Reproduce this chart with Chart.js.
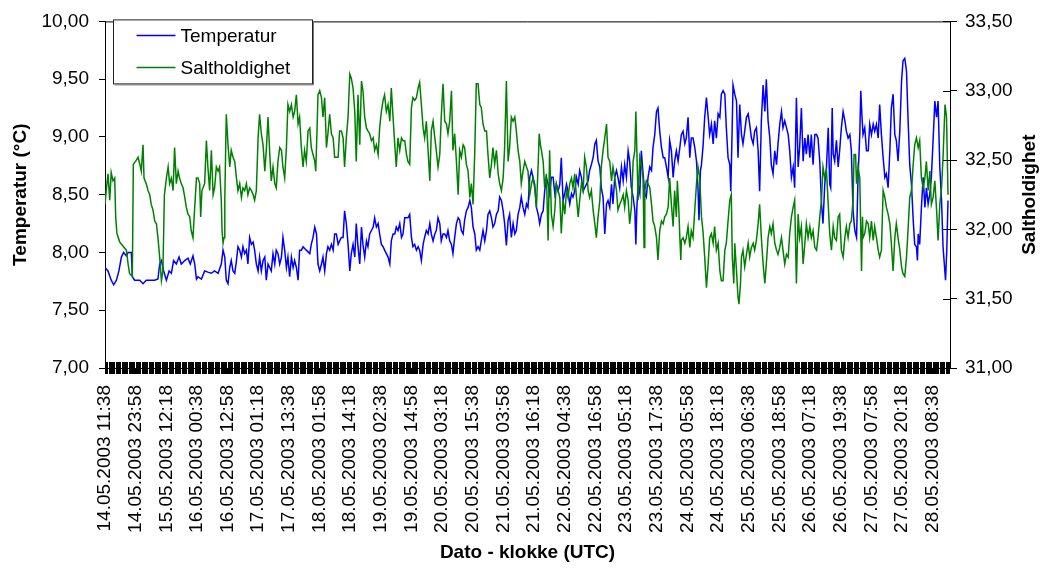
<!DOCTYPE html>
<html><head><meta charset="utf-8">
<script src="https://cdn.jsdelivr.net/npm/chart.js@4.4.1/dist/chart.umd.min.js"></script>
<style>html,body{margin:0;padding:0;background:#fff;}#wrap{width:1042px;height:570px;}</style>
</head><body><div id="wrap"><canvas id="c" width="1042" height="570"></canvas></div>
<script>
// ---- DATA ----
const tickLabels = ["14.05.2003 11:38","14.05.2003 23:58","15.05.2003 12:18","16.05.2003 00:38","16.05.2003 12:58","17.05.2003 01:18","17.05.2003 13:38","18.05.2003 01:58","18.05.2003 14:18","19.05.2003 02:38","19.05.2003 14:58","20.05.2003 03:18","20.05.2003 15:38","21.05.2003 03:58","21.05.2003 16:18","22.05.2003 04:38","22.05.2003 16:58","23.05.2003 05:18","23.05.2003 17:38","24.05.2003 05:58","24.05.2003 18:18","25.05.2003 06:38","25.05.2003 18:58","26.05.2003 07:18","26.05.2003 19:38","27.05.2003 07:58","27.05.2003 20:18","28.05.2003 08:38"];
const seriesNames = ["Temperatur", "Saltholdighet"];
const axisTitles = {x: "Dato - klokke (UTC)", left: "Temperatur (°C)", right: "Saltholdighet"};
const totalHours = 340;       // time span on the axis, hours from first label
const ticksPerLabel = 26;     // minor category tick marks between two labels

// hours after 14.05.2003 11:38
const tempHours = [
0,1.2,2.5,3.5,4.6,5.6,6.6,7.5,8.6,9.3,10.6,11.0,11.9,14.0,15.3,16.6,20.0,21.3,22.0,22.7,23.6,24.7,25.8,26.7,27.6,28.7,29.8,30.7,32.1,33.4,34.3,35.4,36.1,36.8,
37.4,38.8,40.1,41.4,42.8,44.1,45.5,46.8,47.5,48.2,48.8,49.5,50.2,50.8,51.5,52.2,52.9,53.5,54.2,54.9,55.5,56.2,56.9,57.5,58.2,58.9,59.6,60.2,60.9,61.6,62.2,62.9,63.6,64.3,64.9,65.6,66.9,67.6,68.3,68.9,69.6,70.3,71.0,71.6,72.3,73.0,73.6,74.3,75.0,75.7,76.3,77.0,77.7,78.3,79.0,
79.7,81.0,82.4,83.0,83.7,84.4,85.1,85.7,86.4,87.1,87.7,88.4,89.1,89.7,90.4,91.1,91.8,92.4,93.1,93.8,94.4,95.1,95.8,96.4,97.1,97.8,98.5,99.1,99.8,100.5,101.1,101.8,102.5,103.2,103.8,104.5,105.2,105.8,106.5,107.2,107.9,108.5,109.2,109.9,110.5,111.2,111.9,112.5,113.2,113.9,114.6,115.2,115.9,116.6,117.2,117.9,118.6,119.3,119.9,120.6,121.3,
121.9,122.6,123.3,123.9,124.6,125.3,126.0,126.6,127.3,128.0,128.6,129.3,130.0,130.7,131.3,132.0,132.7,133.3,134.0,134.7,135.3,136.0,136.7,137.4,138.0,138.7,139.4,140.0,140.7,141.4,142.1,142.7,143.4,144.1,144.7,145.4,146.1,146.8,147.4,148.1,148.8,149.4,150.1,150.8,151.4,152.1,152.8,153.5,154.1,154.8,155.5,156.1,156.8,157.5,158.2,158.8,159.5,160.2,160.8,161.5,162.2,162.8,163.5,
164.2,164.9,165.5,166.2,166.9,167.5,168.2,168.9,169.6,170.2,170.9,171.6,172.2,172.9,173.6,174.3,174.9,175.6,176.3,176.9,177.6,178.3,178.9,179.6,180.3,181.0,181.6,182.3,183.0,183.6,184.3,185.0,185.7,186.3,187.0,187.7,188.3,189.0,189.7,190.4,191.0,191.7,192.4,193.0,193.7,194.4,195.0,195.7,196.4,197.1,197.7,198.4,199.1,199.7,200.4,201.1,201.8,202.4,203.1,203.8,204.4,205.1,205.8,
206.4,207.1,207.8,208.5,209.1,209.8,210.5,211.1,211.8,212.5,213.2,213.6,214.0,214.5,215.2,215.8,216.5,217.2,217.8,218.5,219.2,219.9,220.5,221.2,221.9,222.5,223.2,223.9,224.6,225.2,225.9,226.6,227.2,227.9,228.6,229.2,229.9,230.6,231.3,231.9,232.6,233.3,233.9,234.6,235.3,235.9,236.6,237.3,238.0,238.6,239.0,239.6,240.0,240.6,241.3,242.0,242.7,243.3,244.0,244.7,245.3,246.0,246.7,247.4,248.0,
248.7,249.4,250.0,250.7,251.4,251.8,252.3,252.7,253.4,254.1,254.7,255.4,256.1,256.7,257.4,258.1,258.8,259.4,260.1,260.8,261.4,262.1,262.8,263.4,264.1,264.8,265.5,266.1,266.8,267.5,268.1,268.8,269.5,270.2,270.8,271.5,272.2,272.8,273.5,274.2,274.9,275.5,276.2,276.9,277.5,278.2,278.9,279.5,280.2,280.9,281.6,282.2,282.9,283.6,284.2,284.9,285.6,286.3,286.9,287.6,288.3,288.9,289.6,290.3,
291.0,291.6,292.0,292.6,293.0,293.6,294.3,295.0,295.6,296.3,297.0,297.7,298.3,299.0,299.7,300.3,301.0,301.7,302.4,303.0,303.7,304.1,304.6,305.0,305.7,306.4,307.1,307.7,308.4,309.1,309.7,310.4,311.1,311.7,312.4,313.1,313.8,314.4,315.1,315.8,316.4,317.1,317.8,318.4,319.1,319.8,320.5,321.1,321.8,322.5,323.1,323.8,324.5,325.2,325.8,326.5,326.9,327.2,327.8,328.5,329.2,329.9,330.5,331.2,331.9,332.5,333.2,333.9,334.6,335.2,335.9,336.6,337.2,338.2,338.7,339.2];
const tempValues = [
7.87,7.84,7.76,7.72,7.76,7.84,7.96,8.00,7.97,8.00,8.00,7.79,7.76,7.76,7.73,7.76,7.76,7.77,7.90,7.93,7.84,7.76,7.84,7.82,7.93,7.90,7.96,7.90,7.93,7.95,7.90,7.97,7.90,7.77,
7.79,7.77,7.84,7.83,7.82,7.84,7.82,7.90,8.02,7.96,7.76,7.73,7.87,7.93,7.84,7.82,7.93,8.05,8.02,7.96,8.05,7.99,8.02,7.90,8.13,8.07,8.09,8.02,7.90,7.84,7.96,7.84,7.93,7.96,7.76,7.90,7.84,7.99,7.90,8.02,7.99,7.90,7.96,8.13,8.02,7.87,7.96,7.79,7.96,7.87,7.93,7.87,7.76,8.02,8.02,
8.05,8.02,7.99,8.07,8.13,8.22,8.16,7.90,7.84,7.90,7.96,7.84,7.99,8.05,8.02,8.07,8.02,8.16,8.16,8.07,8.10,8.13,8.13,8.36,8.25,8.07,7.84,7.99,8.07,7.96,8.25,8.05,7.90,8.22,8.07,7.96,8.10,8.05,8.16,8.19,8.22,8.30,8.22,8.25,8.16,8.07,8.05,8.02,7.99,7.96,7.90,8.10,8.16,8.16,8.22,8.19,8.25,8.13,8.16,8.30,8.30,
8.30,8.33,8.13,8.05,8.07,8.02,8.05,8.02,7.93,8.07,8.13,8.19,8.16,8.25,8.16,8.10,8.16,8.19,8.30,8.25,8.10,8.16,8.16,8.13,8.19,8.10,8.07,7.99,8.13,8.25,8.30,8.28,8.19,8.16,8.28,8.36,8.39,8.45,8.39,8.22,8.16,8.02,8.05,8.02,8.10,8.19,8.10,8.19,8.33,8.36,8.30,8.22,8.25,8.33,8.36,8.48,8.45,8.36,8.25,8.06,8.28,8.33,8.13,
8.25,8.16,8.19,8.33,8.39,8.48,8.39,8.33,8.42,8.39,8.65,8.71,8.65,8.59,8.39,8.33,8.25,8.33,8.36,8.53,8.65,8.59,8.51,8.65,8.65,8.51,8.59,8.53,8.59,8.82,8.45,8.51,8.59,8.53,8.42,8.51,8.48,8.53,8.65,8.59,8.71,8.65,8.53,8.56,8.59,8.62,8.71,8.76,8.82,8.94,8.97,8.79,8.74,8.56,8.48,8.16,8.42,8.45,8.39,8.59,8.42,8.65,8.71,
8.65,8.56,8.74,8.62,8.76,8.65,8.88,8.79,8.56,8.48,8.36,8.07,8.39,8.59,8.51,8.88,8.68,8.51,8.48,8.65,8.74,8.71,8.91,9.02,9.22,9.25,9.05,8.91,8.82,8.82,8.74,8.65,8.97,8.88,8.65,8.79,8.88,8.79,8.91,9.02,9.05,8.94,8.99,9.17,8.82,8.99,8.99,8.91,8.79,8.56,8.28,8.71,8.76,8.91,9.17,9.34,9.17,9.02,9.11,8.94,9.14,8.99,9.20,9.17,9.37,
9.40,9.37,9.08,8.82,8.76,8.53,9.02,9.45,9.37,9.31,8.82,9.28,9.02,8.94,9.05,9.17,9.20,9.11,8.99,8.94,9.05,9.08,8.88,8.53,9.14,9.45,9.22,9.50,9.14,8.99,8.76,8.68,8.88,8.76,8.94,9.11,9.22,9.08,9.14,9.08,9.02,8.88,8.65,8.74,8.56,9.34,8.74,8.91,9.25,8.79,8.99,8.85,9.02,8.82,9.02,8.76,9.02,9.02,8.99,8.79,8.42,8.25,8.59,8.74,
9.08,8.59,8.56,9.25,8.85,8.79,8.97,8.74,8.88,9.08,9.22,9.14,9.05,8.99,9.02,8.88,8.36,8.19,8.13,8.65,9.02,9.40,9.17,9.02,9.08,8.88,8.88,9.11,9.02,9.11,9.05,9.11,8.99,9.28,9.02,8.82,8.65,8.68,8.56,8.88,9.25,9.37,9.02,8.97,8.79,9.05,9.48,9.66,9.68,9.57,9.17,8.76,8.59,8.28,8.07,8.05,7.93,8.16,8.07,8.39,8.65,8.39,8.56,8.42,8.51,8.65,8.97,9.31,9.17,9.31,8.74,8.45,8.05,7.76,8.02,8.45];

const salHours = [
0.0,0.5,1.2,1.9,2.5,3.2,3.9,4.3,4.8,5.9,7.2,8.6,9.3,9.9,11.0,11.4,12.3,13.3,14.0,14.6,15.3,15.7,16.6,17.3,18.0,18.6,19.3,20.0,20.7,21.3,22.0,22.7,23.3,23.9,24.7,25.4,26.0,26.7,27.4,28.0,28.7,29.4,30.0,30.7,31.4,32.1,32.7,33.4,34.1,34.7,35.4,36.1,36.8,
37.4,38.1,38.5,39.0,40.1,40.8,41.4,42.1,42.8,43.5,44.1,44.8,45.5,46.1,46.8,47.1,47.5,47.9,48.2,48.8,49.5,50.2,50.8,51.5,52.2,52.9,53.5,54.2,54.9,55.5,56.2,56.9,57.5,58.2,58.9,59.6,60.2,60.9,61.6,62.2,62.9,63.6,64.3,64.9,65.6,66.3,66.9,67.6,68.3,68.9,69.6,70.3,71.0,71.6,72.3,73.0,73.6,74.3,75.0,75.7,76.3,77.0,77.7,78.3,79.0,
79.7,80.3,81.0,81.7,82.4,83.0,83.7,84.4,84.8,85.3,85.7,86.4,87.1,87.7,88.4,89.1,89.7,90.4,91.1,91.8,92.4,93.1,93.8,94.4,95.1,95.8,96.4,97.1,97.8,98.5,99.1,99.8,100.5,101.1,101.8,102.5,103.2,103.8,104.5,105.2,105.8,106.5,107.2,107.9,108.5,109.2,109.9,110.5,111.2,111.9,112.5,113.2,113.9,114.6,115.2,115.9,116.6,117.2,117.9,118.6,119.3,119.9,120.6,121.3,
121.9,122.6,123.3,123.9,124.6,125.3,126.0,126.6,127.3,128.0,128.6,129.3,130.0,130.7,131.3,132.0,132.7,133.3,134.0,134.7,135.3,136.0,136.7,137.4,138.0,138.7,139.4,140.0,140.7,141.4,142.1,142.7,143.4,144.1,144.7,145.4,146.1,146.8,147.4,148.1,148.8,149.4,150.1,150.8,151.4,152.1,152.8,153.5,154.1,154.8,155.5,156.1,156.8,157.5,158.2,158.8,159.5,160.2,160.8,161.5,162.2,162.8,163.5,
164.2,164.9,165.5,166.2,166.9,167.5,168.2,168.9,169.6,170.2,170.9,171.6,172.2,172.9,173.6,174.3,174.7,175.2,175.6,176.3,176.9,177.6,178.3,178.9,179.6,180.3,181.0,181.6,182.3,183.0,183.6,184.3,185.0,185.7,186.3,187.0,187.7,188.3,189.0,189.7,190.4,191.0,191.7,192.4,193.0,193.7,194.4,195.0,195.7,196.4,197.1,197.7,198.4,199.1,199.7,200.4,201.1,201.8,202.4,203.1,203.8,204.4,205.1,205.8,
206.4,207.1,207.8,208.5,209.1,209.8,210.5,211.1,211.8,212.5,213.2,213.6,214.0,214.5,215.2,215.8,216.5,216.9,217.2,217.8,218.5,219.2,219.9,220.5,221.2,221.9,222.5,223.2,223.9,224.6,225.2,225.9,226.6,227.2,227.9,228.6,229.2,229.9,230.3,230.9,231.3,231.7,231.9,232.6,233.3,233.9,234.6,235.3,235.9,236.6,237.3,238.0,238.6,239.3,240.0,240.6,241.3,242.0,242.7,243.3,244.0,244.7,245.3,246.0,246.7,247.4,248.0,
248.7,249.4,250.0,250.7,251.4,252.0,252.4,253.0,253.4,254.1,254.7,255.1,255.7,256.1,256.7,257.4,258.1,258.8,259.4,260.1,260.8,261.4,262.1,262.8,263.4,264.1,264.8,265.5,266.1,266.8,267.5,268.1,268.8,269.5,270.2,270.8,271.5,272.2,272.8,273.5,274.2,274.9,275.5,276.2,276.9,277.5,278.2,278.9,279.5,280.2,280.9,281.6,282.2,282.9,283.6,284.2,284.9,285.6,286.3,286.9,287.6,288.3,288.9,289.6,290.3,
291.0,291.6,292.3,293.0,293.6,294.3,295.0,295.6,296.3,297.0,297.7,298.3,299.0,299.7,300.3,301.0,301.4,302.0,302.4,303.0,303.7,304.4,304.8,305.0,305.7,306.4,307.1,307.7,308.4,309.1,309.7,310.4,311.1,311.7,312.4,313.1,313.8,314.4,315.1,315.8,316.4,317.1,317.8,318.4,319.1,319.8,320.5,321.1,321.8,322.5,323.1,323.8,324.5,325.2,325.8,326.5,327.2,327.8,328.5,329.2,329.9,330.5,331.2,331.9,332.5,333.2,333.9,334.6,335.2,335.9,336.6,337.2,338.0,338.6,339.2];
const salValues = [
32.18,32.28,32.40,32.21,32.41,32.35,32.37,32.09,31.97,31.91,31.88,31.85,31.75,31.68,31.66,32.47,32.49,32.52,32.47,32.42,32.61,32.37,32.33,32.28,32.25,32.18,32.14,32.06,32.04,31.94,31.80,31.63,31.70,32.25,32.37,32.45,32.33,32.37,32.28,32.59,32.33,32.42,32.37,32.33,32.30,32.23,32.16,32.11,32.09,31.99,31.94,32.16,32.37,
32.37,32.33,32.09,32.28,32.33,32.64,32.45,32.28,32.57,32.25,32.30,32.45,32.42,32.45,32.21,31.99,31.90,31.94,32.21,32.83,32.61,32.45,32.57,32.52,32.49,32.37,32.28,32.33,32.23,32.30,32.28,32.33,32.25,32.30,32.28,32.25,32.21,32.28,32.66,32.83,32.69,32.61,32.42,32.57,32.81,32.54,32.35,32.45,32.33,32.30,32.49,32.59,32.57,32.45,32.37,32.59,32.90,32.85,32.90,32.81,32.85,32.97,32.76,32.81,32.59,
32.45,32.57,32.49,32.71,32.73,32.59,32.54,32.49,32.42,32.71,32.97,33.00,32.95,32.81,32.95,32.59,32.69,32.83,32.69,32.66,32.52,32.52,32.52,32.71,32.71,32.66,32.45,32.66,32.81,33.12,33.09,33.02,32.85,32.49,32.97,32.61,33.07,33.00,32.81,32.73,32.71,32.69,32.64,32.66,32.57,32.61,32.54,32.73,32.85,32.93,32.97,32.85,32.90,32.78,33.02,32.81,32.61,32.45,32.66,32.57,32.66,32.64,32.64,32.54,
32.49,32.47,32.88,32.95,32.93,32.95,33.02,33.06,32.90,32.73,32.66,32.78,32.57,32.35,32.71,32.78,32.66,32.57,32.45,32.54,32.81,33.05,32.78,32.76,32.69,32.78,33.00,32.57,32.69,32.49,32.25,32.57,32.52,32.61,32.59,32.47,32.42,32.23,32.33,32.18,32.57,33.05,33.05,32.90,32.88,32.76,32.71,32.71,32.54,32.37,32.47,32.59,32.47,32.57,32.40,32.33,32.28,32.37,32.59,33.07,32.49,32.59,32.81,
32.78,32.81,32.71,32.57,32.49,32.33,32.42,32.49,32.45,32.42,32.25,32.33,32.37,32.30,32.16,32.47,32.69,32.61,32.57,32.49,32.30,32.40,31.92,32.57,32.11,32.02,32.14,32.33,32.28,32.23,31.97,32.21,32.11,32.28,32.23,32.33,32.37,32.30,32.40,32.23,32.09,32.21,32.33,32.28,32.52,32.45,32.28,32.23,32.28,32.14,32.04,31.94,32.09,32.21,32.45,32.57,32.66,32.76,32.52,32.49,32.35,32.45,32.37,32.28,
32.14,32.18,32.21,32.25,32.16,32.28,32.21,32.04,32.16,32.49,32.57,32.85,32.57,32.21,32.52,32.47,32.37,31.87,32.28,32.35,32.33,32.30,32.18,32.06,32.02,31.94,31.78,31.99,32.06,32.04,32.09,32.11,32.16,32.37,32.18,32.02,32.28,32.09,32.35,32.14,31.94,31.78,31.92,31.94,31.90,31.94,32.02,31.87,31.99,31.94,32.14,32.33,32.45,32.37,32.09,31.99,31.80,31.58,31.75,31.94,31.97,31.90,32.02,31.85,31.90,31.70,31.63,
31.63,31.85,31.90,32.06,32.21,32.25,31.80,31.61,31.90,31.70,31.51,31.46,31.61,31.80,31.85,31.73,31.82,31.90,31.80,31.87,31.90,31.85,31.92,32.04,32.18,31.94,31.75,31.61,31.75,31.94,32.02,31.97,32.04,31.90,31.85,31.82,31.87,31.94,31.85,31.75,31.82,31.80,31.97,32.09,32.16,32.21,31.61,32.11,31.94,32.02,31.75,31.90,32.04,31.94,32.02,31.94,31.99,31.87,31.85,31.94,32.09,32.21,32.45,32.37,32.42,
32.18,31.97,31.85,32.02,31.94,31.92,32.09,32.11,31.85,31.80,31.94,32.02,31.94,32.04,32.06,32.21,32.54,32.54,32.33,32.45,32.37,31.70,32.09,31.94,31.97,32.06,32.04,31.94,32.06,31.92,32.02,31.94,31.85,31.80,31.85,32.28,32.23,32.16,32.11,32.04,31.90,31.70,31.94,32.04,31.94,31.85,31.73,31.68,31.66,31.80,31.99,32.23,32.28,32.47,32.61,32.66,32.59,32.64,32.37,32.30,32.37,32.49,32.28,32.42,32.18,32.23,32.35,32.14,31.92,32.18,32.30,32.52,32.90,32.81,32.25];

// ---- helpers ----
function stampHours(s){
  const [d,t] = s.split(' ');
  const [dd,mm,yy] = d.split('.').map(Number);
  const [hh,mi] = t.split(':').map(Number);
  return Date.UTC(yy,mm-1,dd,hh,mi)/3600000;
}
const t0 = stampHours(tickLabels[0]);
const tickHours = tickLabels.map(s => stampHours(s) - t0);
const pts = (hs, vs) => hs.slice(0, Math.min(hs.length, vs.length)).map((h,i)=>({x:h, y:vs[i]}));
const comma = v => Number(v).toFixed(2).replace('.', ',');

const FONT = '"Liberation Sans", Arial, sans-serif';
Chart.defaults.font.family = FONT;
Chart.defaults.color = '#000';

const decor = {
  id: 'decor',
  afterDraw(chart){
    const {ctx, chartArea:a, scales} = chart;
    const xs = scales.x, yr = scales.y2;
    ctx.save();
    ctx.strokeStyle = '#000'; ctx.lineWidth = 1;
    // top border of plot area
    ctx.beginPath(); ctx.moveTo(a.left, a.top + 0.5); ctx.lineTo(a.right, a.top + 0.5); ctx.stroke();
    // dense category tick marks crossing the x axis
    const step = (tickHours[1] - tickHours[0]) / ticksPerLabel;
    ctx.beginPath();
    for (let h = 0; h <= totalHours + 1e-9; h += step) {
      const px = Math.round(xs.getPixelForValue(h)) + 0.5;
      ctx.moveTo(px, a.bottom - 6); ctx.lineTo(px, a.bottom + 6);
    }
    ctx.stroke();
    // inner half of the right axis ticks
    ctx.beginPath();
    yr.ticks.forEach(t => {
      const py = Math.round(yr.getPixelForValue(t.value)) + 0.5;
      ctx.moveTo(a.right - 7, py); ctx.lineTo(a.right, py);
    });
    ctx.stroke();
    // right axis title (reads bottom to top)
    ctx.save();
    ctx.translate(yr.right - 12, (a.top + a.bottom) / 2);
    ctx.rotate(-Math.PI / 2);
    ctx.font = 'bold 19px ' + FONT; ctx.fillStyle = '#000';
    ctx.textAlign = 'center'; ctx.textBaseline = 'middle';
    ctx.fillText(axisTitles.right, 0, 0);
    ctx.restore();
    // legend box
    const bx = a.left + 8.5, by = a.top - 1.5, bw = 199, bh = 64;
    ctx.fillStyle = '#fff'; ctx.fillRect(bx, by, bw, bh);
    ctx.strokeStyle = '#222'; ctx.lineWidth = 1; ctx.strokeRect(bx, by, bw, bh);
    ctx.strokeStyle = '#777'; ctx.beginPath();
    ctx.moveTo(bx + 1, by + bh + 1); ctx.lineTo(bx + bw + 1, by + bh + 1); ctx.lineTo(bx + bw + 1, by + 1); ctx.stroke();
    ctx.font = '19px ' + FONT; ctx.textBaseline = 'middle'; ctx.textAlign = 'left';
    chart.data.datasets.forEach((ds, i) => {
      const ly = by + 15.5 + i * 32;
      ctx.strokeStyle = ds.borderColor; ctx.lineWidth = 1.5;
      ctx.beginPath(); ctx.moveTo(bx + 23, ly); ctx.lineTo(bx + 62, ly); ctx.stroke();
      ctx.fillStyle = '#000'; ctx.fillText(ds.label, bx + 67, ly + 1);
    });
    ctx.restore();
  }
};

new Chart(document.getElementById('c'), {
  type: 'line',
  data: {
    datasets: [
      {label: seriesNames[0], data: pts(tempHours, tempValues), yAxisID: 'y', borderColor: '#0000FF', backgroundColor: '#0000FF', borderWidth: 1.5, pointRadius: 0, tension: 0, order: 1},
      {label: seriesNames[1], data: pts(salHours, salValues), yAxisID: 'y2', borderColor: '#008000', backgroundColor: '#008000', borderWidth: 1.5, pointRadius: 0, tension: 0, order: 0}
    ]
  },
  options: {
    responsive: false, animation: false, devicePixelRatio: 1,
    layout: {padding: {top: 20, left: 0, right: 0, bottom: 0}},
    plugins: {legend: {display: false}, tooltip: {enabled: false}},
    scales: {
      x: {
        type: 'linear', position: 'bottom', min: 0, max: totalHours,
        afterBuildTicks: s => { s.ticks = tickHours.map(v => ({value: v})); },
        afterFit: s => { s.height = 202; },
        ticks: {autoSkip: false, maxRotation: 90, minRotation: 90, padding: 11, font: {size: 19}, color: '#000',
          callback: (v, i) => tickLabels[i]},
        grid: {display: true, drawOnChartArea: false, drawTicks: true, tickLength: 6, color: '#000'},
        border: {display: true, color: '#000', width: 1},
        title: {display: true, text: axisTitles.x, font: {size: 19, weight: 'bold'}, color: '#000', padding: {top: 4, bottom: 6}}
      },
      y: {
        type: 'linear', position: 'left', min: 7, max: 10,
        afterFit: s => { s.width = 105; },
        ticks: {stepSize: 0.5, padding: 10, font: {size: 19}, color: '#000', callback: v => comma(v)},
        grid: {display: true, drawOnChartArea: false, drawTicks: true, tickLength: 6, color: '#000'},
        border: {display: true, color: '#000', width: 1},
        title: {display: true, text: axisTitles.left, font: {size: 19, weight: 'bold'}, color: '#000', padding: {top: 9, bottom: 0}}
      },
      y2: {
        type: 'linear', position: 'right', min: 31, max: 33.5,
        afterFit: s => { s.width = 92; },
        ticks: {stepSize: 0.5, padding: 8, font: {size: 19}, color: '#000', callback: v => comma(v)},
        grid: {display: true, drawOnChartArea: false, drawTicks: true, tickLength: 7, color: '#000'},
        border: {display: true, color: '#000', width: 1}
      }
    }
  },
  plugins: [decor]
});
</script>
</body></html>
